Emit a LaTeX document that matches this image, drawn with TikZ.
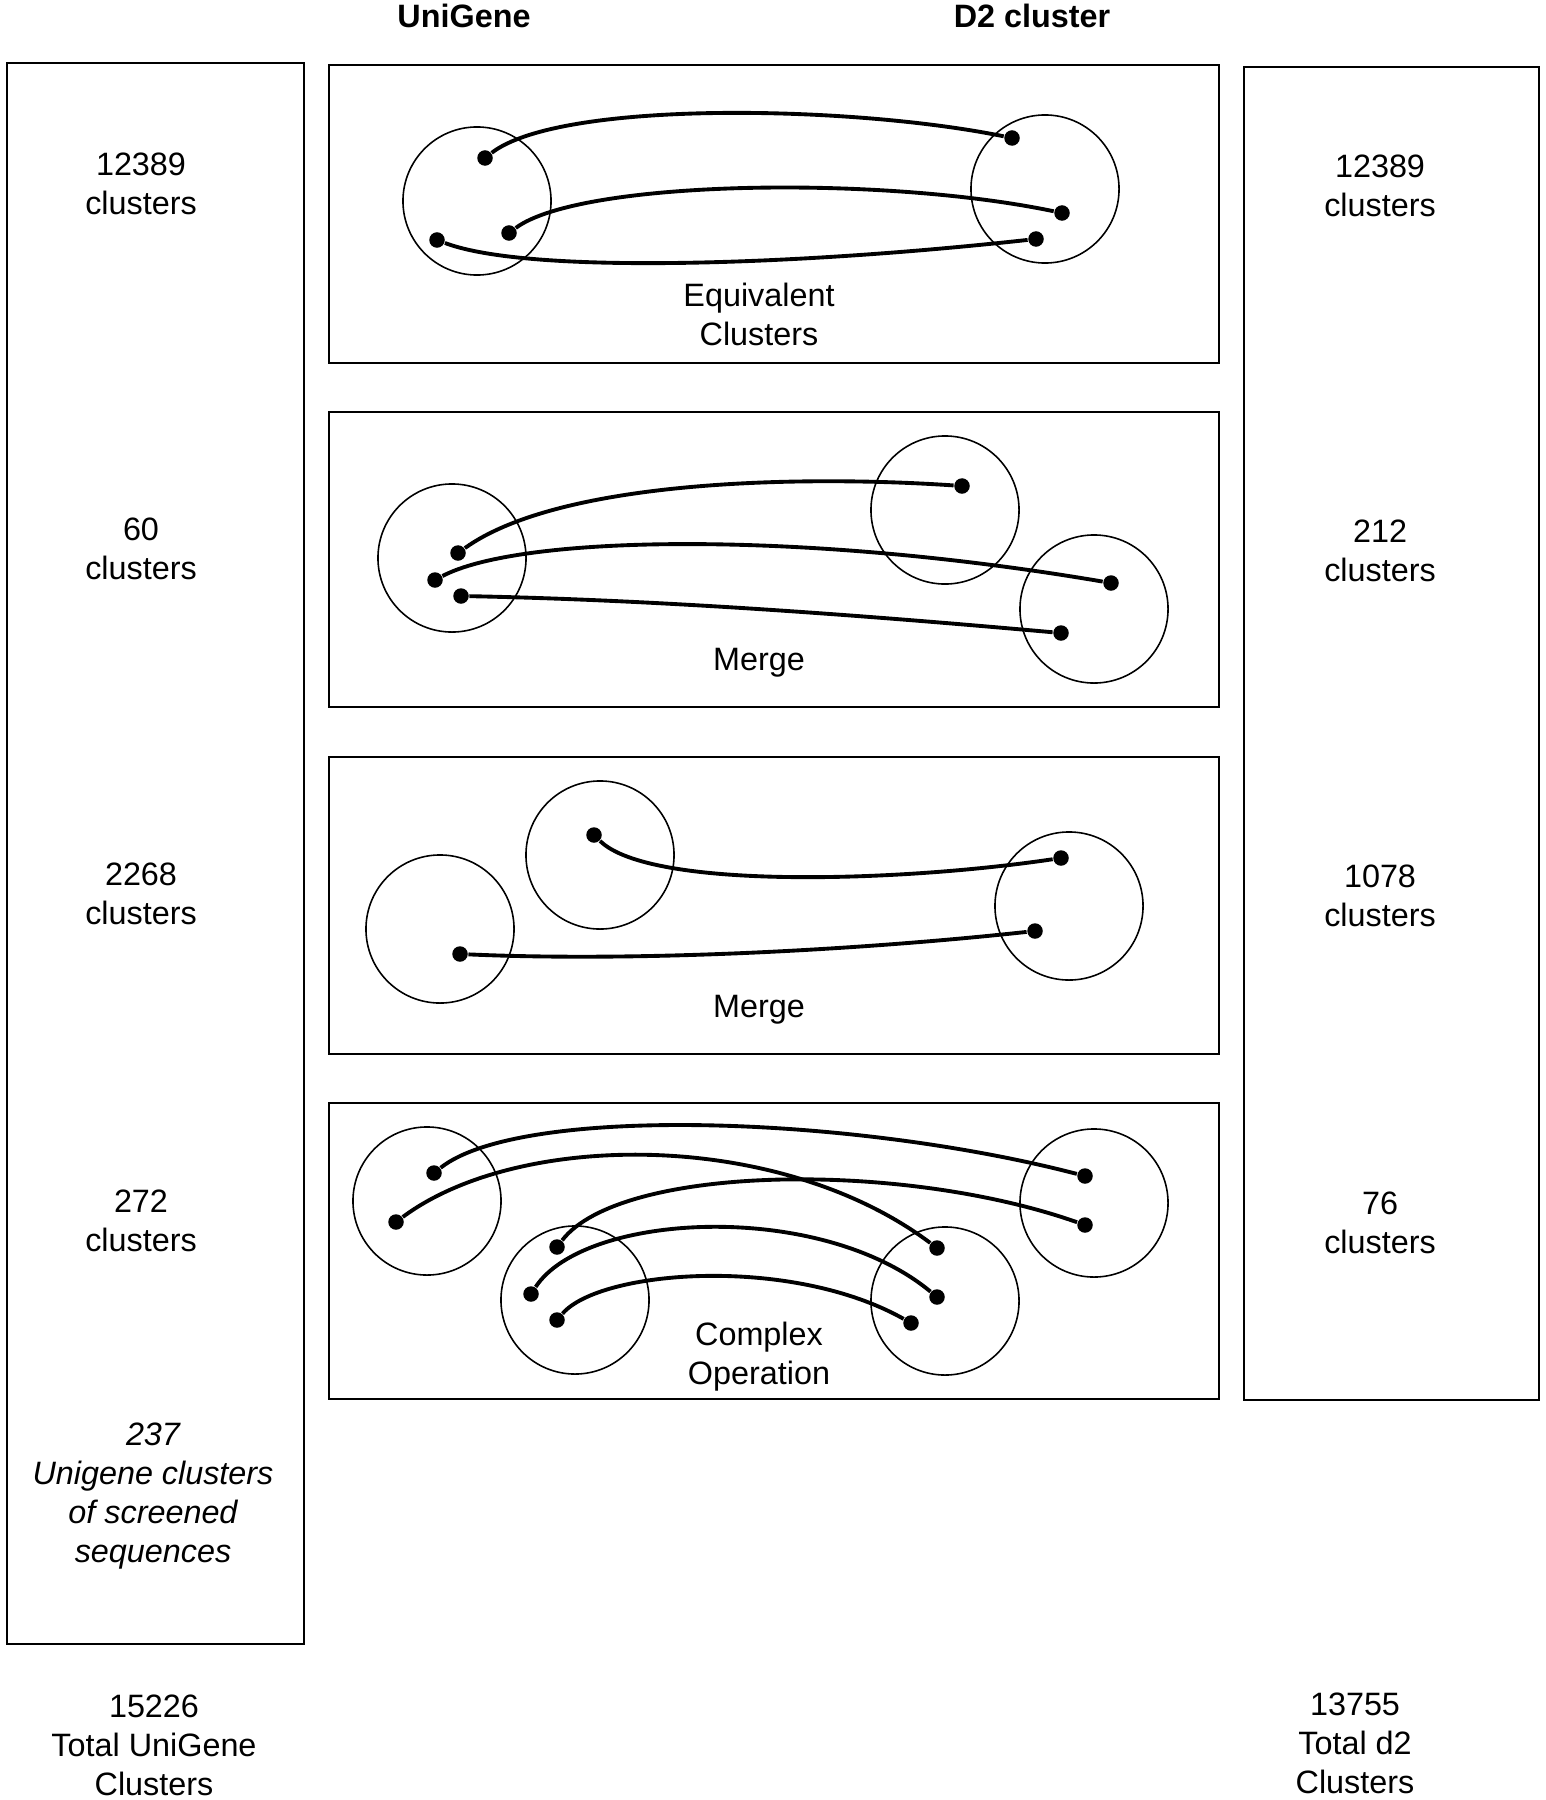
\documentclass[tikz,border=0pt]{standalone}
\usepackage{fontspec}
\setmainfont{Liberation Sans}
\usepackage{tikz}
\tikzset{
  count label/.style={align=center,inner sep=0pt,font=\fontsize{9.2}{11.1}\selectfont},
  note label/.style={count label,font=\fontsize{9.2}{11.1}\selectfont\itshape},
  head label/.style={inner sep=0pt,font=\fontsize{9.2}{11.1}\selectfont\bfseries},
  col box/.style={draw,line width=0.6pt},
  clus/.style={circle,draw,line width=0.45pt,minimum size=1.48cm,inner sep=0pt},
  seq dot/.style={circle,fill=black,minimum size=0.155cm,inner sep=0pt},
  link/.style={line width=1.1pt}
}

\begin{document}
\begin{tikzpicture}[x=0.01cm,y=-0.01cm]
  \useasboundingbox (0,0) rectangle (1546,1800);
  \node[head label] (hug) at (464,16) {UniGene};
  \node[head label] (hdc) at (1032,16) {D2 cluster};
  % side columns and the four cases
  \draw[col box] (7,63) rectangle (304,1644);
  \draw[col box] (1244,67) rectangle (1539,1400);
  \foreach \t/\b in {65/363, 412/707, 757/1054, 1103/1399}{\draw[col box] (329,\t) rectangle (1219,\b);}
  \foreach \y/\n in {184/12389, 549/60, 894/2268, 1221/272}{\node[count label] (ul\n) at (141,\y) {\n\\clusters};}
  \foreach \y/\n in {186/12389, 551/212, 896/1078, 1223/76}{\node[count label] (dl\n) at (1380,\y) {\n\\clusters};}
  \node[note label] (scr) at (153,1496) {237\\Unigene clusters\\of screened\\sequences};
  \node[count label] (tug) at (154,1745) {15226\\Total UniGene\\Clusters};
  \node[count label] (tdc) at (1355,1743) {13755\\Total d2\\Clusters};
  \node[count label] (op1) at (759,314) {Equivalent\\Clusters};
  \node[count label] (op2) at (759,663) {Merge};
  \node[count label] (op3) at (759,1010) {Merge};
  \node[count label] (op4) at (759,1357) {Complex\\Operation};
  % clusters
  \foreach \n/\x/\y in {ugc1/477/201, dcc1/1045/189, ugc2/452/558, dcc2a/945/510, dcc2b/1094/609,
    ugc3a/600/855, ugc3b/440/929, dcc3/1069/906, ugc4a/427/1201, ugc4b/575/1300, dcc4a/945/1301, dcc4b/1094/1203}
    {\node[clus] (\n) at (\x,\y) {};}
  % sequences
  \foreach \n/\x/\y in {ug1a/485/158, ug1b/509/233, ug1c/437/240, dc1a/1012/138, dc1b/1062/213, dc1c/1036/239,
    ug2a/458/553, ug2b/435/580, ug2c/461/596, dc2a/962/486, dc2b/1111/583, dc2c/1061/633,
    ug3a/594/835, ug3b/460/954, dc3a/1061/858, dc3b/1035/931,
    ug4a/434/1173, ug4b/396/1222, ug4c/557/1247, ug4d/531/1294, ug4e/557/1320,
    dc4a/1085/1176, dc4b/1085/1225, dc4c/937/1248, dc4d/937/1297, dc4e/911/1323}
    {\node[seq dot] (\n) at (\x,\y) {};}
  \draw[link] (ug1a) .. controls (560,100) and (850,105) .. (dc1a);
  \draw[link] (ug1b) .. controls (580,180) and (880,175) .. (dc1b);
  \draw[link] (ug1c) .. controls (530,275) and (800,265) .. (dc1c);
  \draw[link] (ug2a) .. controls (560,480) and (800,475) .. (dc2a);
  \draw[link] (ug2b) .. controls (520,535) and (800,530) .. (dc2b);
  \draw[link] (ug2c) .. controls (660,600) and (860,615) .. (dc2c);
  \draw[link] (ug3a) .. controls (650,890) and (900,882) .. (dc3a);
  \draw[link] (ug3b) .. controls (640,962) and (860,950) .. (dc3b);
  \draw[link] (ug4a) .. controls (520,1105) and (850,1115) .. (dc4a);
  \draw[link] (ug4b) .. controls (520,1130) and (780,1130) .. (dc4c);
  \draw[link] (ug4c) .. controls (620,1165) and (900,1160) .. (dc4b);
  \draw[link] (ug4d) .. controls (585,1212) and (820,1200) .. (dc4d);
  \draw[link] (ug4e) .. controls (600,1270) and (790,1255) .. (dc4e);
\end{tikzpicture}
\end{document}
